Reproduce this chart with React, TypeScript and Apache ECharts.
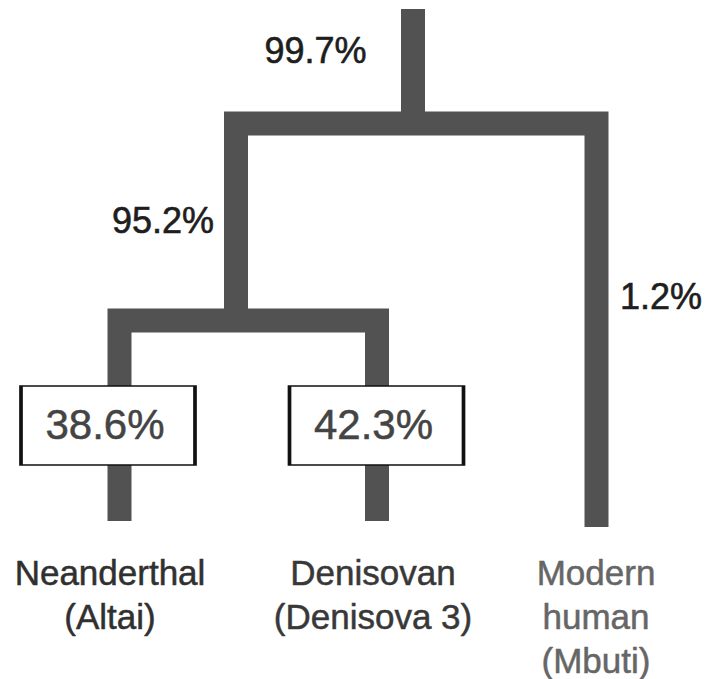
import React, { useEffect, useRef } from "react";
import * as echarts from "echarts";

// Dendrogram geometry in axis units (x: horizontal layout, y: depth from top)
const leafNames = ["Neanderthal\n(Altai)", "Denisovan\n(Denisova 3)", "Modern\nhuman\n(Mbuti)"];
const leafColors = ["#303030", "#383838", "#666666"];
const leafX = [119.5, 377, 596.5];
const leafLabelX = [110, 373, 596];
const leafBottom = [521, 521, 527];
const innerNodeX = [236, 413]; // archaic ancestor, root
const splitDepth = [320.5, 123.5]; // archaic split, root split
const rootTop = 9;

const branchPercents = ["99.7%", "95.2%", "1.2%"];
const branchLabelPos = [
  [315.5, 50],
  [163, 220.5],
  [661, 296.5],
];
const leafPercents = ["38.6%", "42.3%"];
const leafBoxPos = [
  [108, 425.5],
  [376.5, 425.5],
];
const labelTop = 550.5;

const FONT = "'Liberation Sans', Arial, Helvetica, sans-serif";

export default function App() {
  const ref = useRef<HTMLDivElement>(null);
  useEffect(() => {
    if (!ref.current) return;
    const chart = echarts.init(ref.current, null, { renderer: "svg" });
    const branches = [
      { coords: [[innerNodeX[1], rootTop], [innerNodeX[1], splitDepth[1]]] },
      {
        coords: [
          [innerNodeX[0], splitDepth[0]],
          [innerNodeX[0], splitDepth[1]],
          [leafX[2], splitDepth[1]],
          [leafX[2], leafBottom[2]],
        ],
      },
      {
        coords: [
          [leafX[0], leafBottom[0]],
          [leafX[0], splitDepth[0]],
          [leafX[1], splitDepth[0]],
          [leafX[1], leafBottom[1]],
        ],
      },
    ];
    chart.setOption({
      animation: false,
      grid: { left: 0, right: 0, top: 0, bottom: 0 },
      xAxis: { type: "value", min: 0, max: 706, show: false },
      yAxis: { type: "value", min: 0, max: 679, inverse: true, show: false },
      series: [
        {
          type: "lines",
          coordinateSystem: "cartesian2d",
          polyline: true,
          silent: true,
          z: 1,
          lineStyle: { color: "#525252", width: 24, opacity: 1, cap: "butt", join: "miter", curveness: 0 },
          data: branches,
        },
        {
          type: "scatter",
          z: 3,
          symbol: "rect",
          symbolSize: [174, 79],
          itemStyle: { color: "#ffffff", borderColor: "#111111", borderWidth: 2.5, opacity: 1 },
          label: {
            show: true,
            position: "inside",
            offset: [-3, -1],
            fontSize: 42,
            fontFamily: FONT,
            color: "#444444",
            textBorderColor: "#444444",
            textBorderWidth: 0.5,
            formatter: (p: any) => p.data.name,
          },
          data: leafPercents.map((t, i) => ({ name: t, value: leafBoxPos[i] })),
        },
        {
          type: "scatter",
          z: 3,
          symbol: "circle",
          symbolSize: 0.1,
          itemStyle: { color: "transparent", opacity: 1 },
          label: {
            show: true,
            position: "inside",
            fontSize: 36,
            fontFamily: FONT,
            color: "#1e1e1e",
            textBorderColor: "#1e1e1e",
            textBorderWidth: 0.6,
            formatter: (p: any) => p.data.name,
          },
          data: branchPercents.map((t, i) => ({ name: t, value: branchLabelPos[i] })),
        },
        {
          type: "scatter",
          z: 3,
          symbol: "circle",
          symbolSize: 0.1,
          itemStyle: { color: "transparent", opacity: 1 },
          data: leafNames.map((t, i) => ({
            name: t,
            value: [leafLabelX[i], labelTop],
            label: {
              show: true,
              position: "inside",
              align: "center",
              verticalAlign: "top",
              fontSize: 35,
              lineHeight: 44,
              fontFamily: FONT,
              color: leafColors[i],
              textBorderColor: leafColors[i],
              textBorderWidth: 0.5,
              formatter: (p: any) => p.data.name,
            },
          })),
        },
      ],
    });
    return () => chart.dispose();
  }, []);
  return (
    <div
      ref={ref}
      style={{ position: "absolute", left: 0, top: 0, width: 706, height: 679, background: "#fff" }}
    />
  );
}
